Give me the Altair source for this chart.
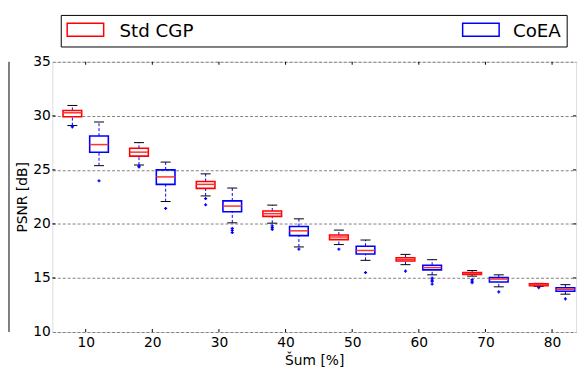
import altair as alt
import pandas as pd

# ---------------- data ----------------
noise = [10, 20, 30, 40, 50, 60, 70, 80]
methods = ["Std CGP", "CoEA"]
method_colors = ["#ff0000", "#0000ff"]

# Std CGP box statistics
cgp_lo = [29.10, 25.45, 22.59, 20.07, 18.09, 16.23, 15.17, 14.22]
cgp_q1 = [29.92, 26.27, 23.29, 20.70, 18.55, 16.57, 15.32, 14.28]
cgp_med = [30.28, 26.64, 23.66, 20.95, 18.79, 16.72, 15.41, 14.38]
cgp_q3 = [30.50, 27.00, 23.93, 21.20, 18.97, 16.87, 15.50, 14.47]
cgp_hi = [30.96, 27.52, 24.63, 21.74, 19.43, 17.18, 15.69, 14.50]

# CoEA box statistics
coea_lo = [25.39, 22.07, 20.10, 17.87, 16.63, 15.29, 14.18, 13.50]
coea_q1 = [26.63, 23.66, 21.13, 18.92, 17.21, 15.75, 14.63, 13.77]
coea_med = [27.34, 24.35, 21.65, 19.36, 17.54, 15.96, 14.90, 13.95]
coea_q3 = [28.13, 25.00, 22.13, 19.76, 17.94, 16.18, 15.05, 14.10]
coea_hi = [29.43, 25.72, 23.32, 20.47, 18.51, 16.69, 15.29, 14.38]

# outliers (fliers)
cgp_out_noise = [10, 10, 20, 20, 30, 30, 40, 40, 40, 50, 60, 70, 70, 70, 80]
cgp_out_val = [28.98, 29.05, 25.27, 25.35, 22.35, 21.77, 19.83, 19.65, 19.50,
               17.66, 15.63, 14.84, 14.70, 14.56, 14.10]
coea_out_noise = [10, 20, 30, 30, 30, 40, 50, 60, 60, 60, 60, 70, 80]
coea_out_val = [23.99, 21.43, 19.58, 19.40, 19.20, 17.66, 15.50, 14.99, 14.80,
                14.68, 14.44, 13.71, 13.07]

y_ticks = [10, 15, 20, 25, 30, 35]

# ---------------- tables ----------------
rows = []
for m, lo, q1, med, q3, hi in [
    ("Std CGP", cgp_lo, cgp_q1, cgp_med, cgp_q3, cgp_hi),
    ("CoEA", coea_lo, coea_q1, coea_med, coea_q3, coea_hi),
]:
    for i, n in enumerate(noise):
        rows.append(dict(noise=n, method=m, lo=lo[i], q1=q1[i], med=med[i],
                         q3=q3[i], hi=hi[i]))
box_df = pd.DataFrame(rows)

out_rows = [dict(noise=n, method="Std CGP", v=v) for n, v in zip(cgp_out_noise, cgp_out_val)]
out_rows += [dict(noise=n, method="CoEA", v=v) for n, v in zip(coea_out_noise, coea_out_val)]
out_df = pd.DataFrame(out_rows)

W, H = 531, 274
FONT = "DejaVu Sans"
xscale = alt.Scale(domain=[5, 83.6], nice=False, zero=False)
yscale = alt.Scale(domain=[10, 35], nice=False, zero=False)
cscale = alt.Scale(domain=methods, range=method_colors)

x_axis = alt.Axis(values=noise, title="Šum [%]", labelFontSize=14, labelFont=FONT,
                  labelColor="black", ticks=False, domain=False, grid=False,
                  labelPadding=4, titleFont=FONT, titleFontSize=14,
                  titleFontWeight="normal", titleColor="black", titleY=33,
                  titleBaseline="alphabetic")
y_axis = alt.Axis(values=y_ticks, title="PSNR [dB]", labelFontSize=14, labelFont=FONT,
                  labelColor="black", ticks=False, domain=False, grid=True,
                  gridDash=[3, 2], gridColor="#808080", gridWidth=1,
                  labelPadding=2, titleFont=FONT, titleFontSize=14,
                  titleFontWeight="normal", titleColor="black", titleAngle=-90,
                  titleX=-30, titleY=H / 2, titleBaseline="middle", titleAlign="center")


def X(field):
    return alt.X(field, scale=xscale, axis=x_axis)


def Y(field):
    return alt.Y(field, scale=yscale, axis=y_axis)


def positioned(chart):
    return (chart
            .transform_calculate(pos="datum.noise + (datum.method == 'Std CGP' ? -2 : 2)")
            .transform_calculate(bl="datum.pos - 1.4", br="datum.pos + 1.4",
                                 cl="datum.pos - 0.75", cr="datum.pos + 0.75"))


base = positioned(alt.Chart(box_df))

whisk_lo = base.mark_rule(color="#0000ff", strokeWidth=1, strokeDash=[3, 2]).encode(
    x=X("pos:Q"), y=Y("lo:Q"), y2="q1:Q")
whisk_hi = base.mark_rule(color="#0000ff", strokeWidth=1, strokeDash=[3, 2]).encode(
    x=X("pos:Q"), y=Y("q3:Q"), y2="hi:Q")
cap_lo = base.mark_rule(color="black", strokeWidth=1).encode(
    x=X("cl:Q"), x2="cr:Q", y=Y("lo:Q"))
cap_hi = base.mark_rule(color="black", strokeWidth=1).encode(
    x=X("cl:Q"), x2="cr:Q", y=Y("hi:Q"))
boxes = base.mark_rect(fillOpacity=0, strokeWidth=1.6).encode(
    x=X("bl:Q"), x2="br:Q", y=Y("q1:Q"), y2="q3:Q",
    stroke=alt.Stroke("method:N", scale=cscale, legend=None))
medians = base.mark_rule(color="#ff3030", strokeWidth=1.5).encode(
    x=X("bl:Q"), x2="br:Q", y=Y("med:Q"))
fliers = positioned(alt.Chart(out_df)).mark_point(
    shape="cross", filled=True, color="#0000ff", size=10, opacity=1).encode(
    x=X("pos:Q"), y=Y("v:Q"))

# inward tick marks (matplotlib style)
xt_df = pd.DataFrame({"t": noise})
yt_df = pd.DataFrame({"t": y_ticks[1:-1]})
xt_bot = alt.Chart(xt_df).mark_rule(color="black").encode(
    x=X("t:Q"), y=alt.value(H), y2=alt.value(H - 3))
xt_top = alt.Chart(xt_df).mark_rule(color="black").encode(
    x=X("t:Q"), y=alt.value(0), y2=alt.value(3))
yt_left = alt.Chart(yt_df).mark_rule(color="black").encode(
    y=Y("t:Q"), x=alt.value(0), x2=alt.value(3))
yt_right = alt.Chart(yt_df).mark_rule(color="black").encode(
    y=Y("t:Q"), x=alt.value(W), x2=alt.value(W - 3))

# legend (matplotlib style, expanded frame above the axes)
leg_df = pd.DataFrame({"method": methods, "lx": [15, 416], "tx": [68, 467]})
leg_frame = alt.Chart(leg_df.head(1)).mark_rect(
    fill="white", stroke="black", strokeWidth=1).encode(
    x=alt.value(9), x2=alt.value(522), y=alt.value(-47), y2=alt.value(-15))
leg_patch = alt.Chart(leg_df).mark_rect(fill="white", strokeWidth=1.5).encode(
    x=alt.X("lx:Q", scale=None), x2=alt.X2("px2:Q"),
    y=alt.value(-39), y2=alt.value(-26),
    stroke=alt.Stroke("method:N", scale=cscale, legend=None),
).transform_calculate(px2="datum.lx + 37")
leg_text = alt.Chart(leg_df).mark_text(
    align="left", baseline="alphabetic", font=FONT, fontSize=18.5, color="black").encode(
    x=alt.X("tx:Q", scale=None), y=alt.value(-25.5), text="method:N")

# edge of the neighbouring panel visible at the far left of the crop
neighbour = alt.Chart(leg_df.head(1)).mark_rule(color="black", strokeWidth=1).encode(
    x=alt.value(-44), y=alt.value(0), y2=alt.value(H))

chart = alt.layer(
    whisk_lo, whisk_hi, cap_lo, cap_hi, boxes, medians, fliers,
    xt_bot, xt_top, yt_left, yt_right,
    leg_frame, leg_patch, leg_text, neighbour,
).properties(
    width=W, height=H,
    autosize=alt.AutoSizeParams(type="none"),
    padding={"left": 45, "top": 52, "right": 4, "bottom": 37},
).configure_view(stroke="black", strokeWidth=1).configure(background="white")

chart.save("out.html", embed_options={"renderer": "svg", "actions": False})
